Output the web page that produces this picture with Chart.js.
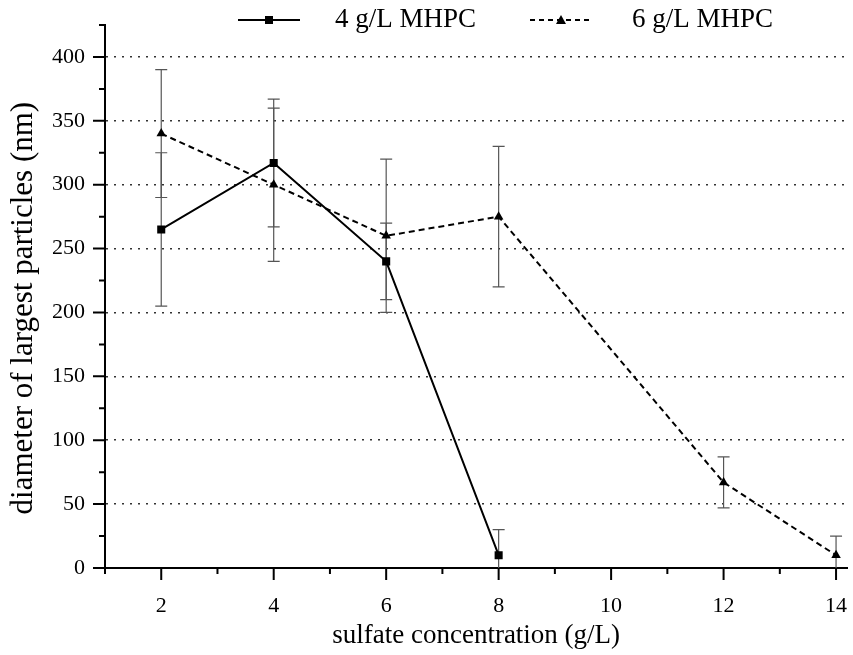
<!DOCTYPE html>
<html>
<head>
<meta charset="utf-8">
<script src="https://cdn.jsdelivr.net/npm/chart.js@4.4.1/dist/chart.umd.min.js"></script>
<style>
  html, body { margin:0; padding:0; background:#fff; }
  #wrap { width:853px; height:655px; }
</style>
</head>
<body>
<div id="wrap"><canvas id="grafico" width="853" height="655"></canvas></div>
<script>
  // valores
  const conc4 = [2, 4, 6, 8];
  const diam4 = [265, 317, 240, 10];
  const erro4 = [60, 50, 30, 20];

  const conc6 = [2, 4, 6, 8, 12, 14];
  const diam6 = [340, 300, 260, 275, 67, 10];
  const erro6 = [50, 60, 60, 55, 20, 15];

  const xTicks = [2, 4, 6, 8, 10, 12, 14];
  const yTicks = [0, 50, 100, 150, 200, 250, 300, 350, 400];

  const nomes = ["4 g/L MHPC", "6 g/L MHPC"];
  const fonte = "'Liberation Serif', 'Times New Roman', serif";

  const serie4 = conc4.map((x, i) => ({ x: x, y: diam4[i], e: erro4[i] }));
  const serie6 = conc6.map((x, i) => ({ x: x, y: diam6[i], e: erro6[i] }));

  // barras de erro
  const barrasErro = {
    id: 'barrasErro',
    beforeDatasetsDraw(chart) {
      const { ctx, chartArea, scales: { x, y } } = chart;
      ctx.save();
      ctx.beginPath();
      ctx.rect(chartArea.left, chartArea.top - 5, chartArea.right - chartArea.left, chartArea.bottom - chartArea.top + 5);
      ctx.clip();
      ctx.strokeStyle = '#555';
      ctx.lineWidth = 1.2;
      chart.data.datasets.forEach(ds => {
        ds.data.forEach(p => {
          const px = x.getPixelForValue(p.x);
          const top = y.getPixelForValue(p.y + p.e);
          const bot = y.getPixelForValue(p.y - p.e);
          ctx.beginPath();
          ctx.moveTo(px, top); ctx.lineTo(px, bot);
          ctx.moveTo(px - 6, top); ctx.lineTo(px + 6, top);
          ctx.moveTo(px - 6, bot); ctx.lineTo(px + 6, bot);
          ctx.stroke();
        });
      });
      ctx.restore();
    }
  };

  // marcas dos eixos (principais e secundárias)
  const marcas = {
    id: 'marcas',
    afterDraw(chart) {
      const { ctx, chartArea, scales: { x, y } } = chart;
      ctx.save();
      ctx.strokeStyle = '#000';
      ctx.lineWidth = 2;
      ctx.beginPath();
      xTicks.forEach(v => {
        const px = x.getPixelForValue(v);
        ctx.moveTo(px, chartArea.bottom); ctx.lineTo(px, chartArea.bottom + 12);
        const pm = x.getPixelForValue(v - 1);
        ctx.moveTo(pm, chartArea.bottom); ctx.lineTo(pm, chartArea.bottom + 6);
      });
      yTicks.forEach(v => {
        const py = y.getPixelForValue(v);
        ctx.moveTo(chartArea.left, py); ctx.lineTo(chartArea.left - 12, py);
        const pm = y.getPixelForValue(v + 25);
        ctx.moveTo(chartArea.left, pm); ctx.lineTo(chartArea.left - 6, pm);
      });
      ctx.stroke();
      ctx.restore();
    }
  };

  // legenda com linha e marcador
  const legenda = {
    id: 'legenda',
    afterDraw(chart) {
      const ctx = chart.ctx;
      const yl = 20;
      ctx.save();
      ctx.strokeStyle = '#000';
      ctx.fillStyle = '#000';
      ctx.lineWidth = 2;
      // série 1
      ctx.setLineDash([]);
      ctx.beginPath(); ctx.moveTo(238, yl); ctx.lineTo(300, yl); ctx.stroke();
      ctx.fillRect(265, yl - 4, 8, 8);
      // série 2
      ctx.setLineDash([5, 4]);
      ctx.beginPath(); ctx.moveTo(530, yl); ctx.lineTo(590, yl); ctx.stroke();
      ctx.setLineDash([]);
      ctx.beginPath();
      ctx.moveTo(561, yl - 5); ctx.lineTo(566, yl + 4); ctx.lineTo(556, yl + 4); ctx.closePath();
      ctx.fill();
      ctx.font = "27px " + fonte;
      ctx.textBaseline = 'middle';
      ctx.fillText(nomes[0], 335, yl);
      ctx.fillText(nomes[1], 632, yl);
      ctx.restore();
    }
  };

  const ctx = document.getElementById('grafico').getContext('2d');
  new Chart(ctx, {
    type: 'line',
    data: {
      datasets: [
        {
          label: nomes[0],
          data: serie4,
          borderColor: '#000',
          backgroundColor: '#000',
          borderWidth: 2,
          pointStyle: 'rect',
          pointRadius: 5.7,
          pointBorderWidth: 0,
          tension: 0
        },
        {
          label: nomes[1],
          data: serie6,
          borderColor: '#000',
          backgroundColor: '#000',
          borderWidth: 2,
          borderDash: [6, 4],
          pointStyle: 'triangle',
          pointRadius: 5.5,
          pointBorderWidth: 0,
          tension: 0
        }
      ]
    },
    options: {
      responsive: false,
      animation: false,
      layout: { padding: { top: 25, right: 0, left: 0, bottom: 0 } },
      plugins: { legend: { display: false }, tooltip: { enabled: false } },
      scales: {
        x: {
          type: 'linear',
          min: 1,
          max: 14.2,
          afterBuildTicks: s => { s.ticks = xTicks.map(v => ({ value: v })); },
          afterFit: s => { s.height = 87; s.paddingLeft = 0; s.paddingRight = 0; },
          grid: { display: false },
          border: { display: true, color: '#000', width: 2 },
          ticks: { color: '#000', font: { family: fonte, size: 22 }, padding: 17 },
          title: { display: true, text: 'sulfate concentration (g/L)', color: '#000',
                   font: { family: fonte, size: 27 }, padding: { top: 0, bottom: 3 } }
        },
        y: {
          min: 0,
          max: 425,
          afterBuildTicks: s => { s.ticks = yTicks.map(v => ({ value: v })); },
          afterFit: s => { s.width = 105; s.paddingTop = 0; s.paddingBottom = 0; },
          grid: {
            drawTicks: false,
            color: c => c.tick && c.tick.value === 0 ? 'rgba(0,0,0,0)' : '#333',
            lineWidth: 1.5
          },
          border: { display: true, color: '#000', width: 2, dash: [2, 6] },
          ticks: { color: '#000', font: { family: fonte, size: 22 }, padding: 20 },
          title: { display: true, text: 'diameter of largest particles (nm)   ', color: '#000',
                   font: { family: fonte, size: 31 }, padding: { top: 5, bottom: 0 } }
        }
      }
    },
    plugins: [barrasErro, marcas, legenda]
  });
</script>
</body>
</html>
